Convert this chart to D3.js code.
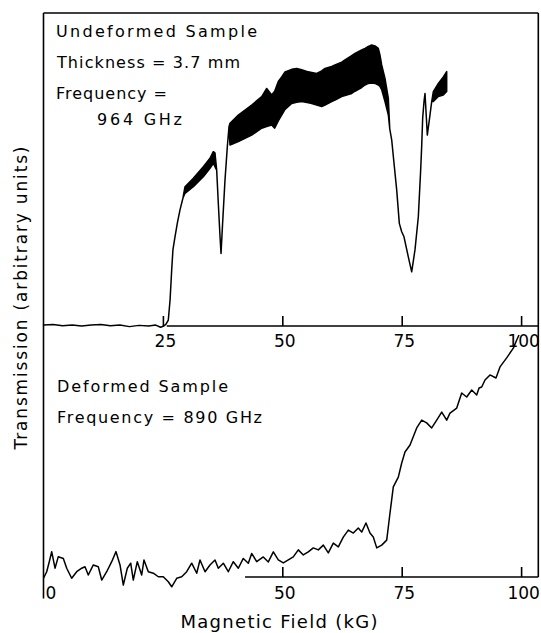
<!DOCTYPE html>
<html><head><meta charset="utf-8">
<script src="https://cdn.jsdelivr.net/npm/d3@7"></script>
<style>
body{margin:0;background:#fff}
svg{display:block}
text{font-family:"DejaVu Sans",sans-serif;fill:#000}
</style>
</head><body>
<svg id="c" width="541" height="633"></svg>
<script>
// ---- data ----
// Undeformed sample, 964 GHz: field (kG), lower / upper envelope of the fringe band (arb. units)
const topField = [0,2,4,6,8,10,12,14,16,18,20,22,23.5,24.5,25.2,25.65,26.13,26.5,26.84,27.1,27.53,28.06,28.58,29.2,
  29.63,31.37,33.46,34.86,35.55,35.9,36.26,36.6,36.96,37.17,37.5,38.0,38.49,38.84,
  39.05,40.79,43.59,45.69,46.73,47.78,48.4,49.16,49.87,50.57,51.97,53.02,54.06,55.44,56.16,57.2,58.25,58.94,60.34,61.03,
  62.44,63.13,64.53,65.22,66.62,67.32,68.01,68.72,69.41,70.1,70.46,70.81,71.5,72.2,
  72.5,72.91,73.39,73.95,74.5,75.0,75.48,76.38,77.09,77.78,78.48,78.97,79.18,79.39,79.67,79.88,80.15,80.36,80.78,81.28,
  81.62,82.67,83.71,84.42];
const topLow = [0.3,0.5,0.1,0.3,0.0,0.3,0.5,0.1,0.3,-0.2,0.2,0.0,0.3,-0.4,0.0,0.6,1.9,8.3,17.9,24.3,28.5,33.2,37.1,40.9,
  42.4,44.5,47.7,50.4,52.0,50.9,49.8,39.2,28.5,23.2,32.8,46.6,57.3,63.7,
  57.8,58.9,61.0,63.2,63.7,64.2,63.2,65.5,67.4,69.2,71.1,71.5,71.7,71.3,71.1,70.6,70.1,70.6,71.7,72.2,
  73.3,73.6,74.3,75.0,76.2,77.0,77.5,77.6,77.5,77.0,76.5,75.5,71.7,67.4,
  63.0,59.4,52.0,43.5,32.8,30.1,28.5,22.1,17.3,24.3,34.9,49.8,57.3,66.4,71.7,74.3,66.9,61.0,65.8,71.7,
  71.7,73.3,73.8,74.9];
const topHigh = [0.3,0.5,0.1,0.3,0.0,0.3,0.5,0.1,0.3,-0.2,0.2,0.0,0.3,-0.4,0.0,0.6,1.9,8.3,17.9,24.3,28.5,33.2,37.1,40.9,
  44.5,47.2,50.9,53.6,55.7,55.3,49.8,39.2,28.5,23.2,32.8,46.6,57.3,63.7,
  64.8,67.4,70.6,73.3,75.9,73.8,75.0,78.1,79.6,81.2,82.0,82.3,81.9,81.2,81.0,80.7,81.5,82.3,82.9,83.4,
  84.3,85.0,86.4,87.1,88.2,88.7,89.3,89.8,89.5,88.7,86.5,83.4,79.1,72.7,
  63.0,59.4,52.0,43.5,32.8,30.1,28.5,22.1,17.3,24.3,34.9,49.8,57.3,66.4,71.7,74.3,66.9,61.0,65.8,71.7,
  74.9,77.5,79.6,81.3];

// Deformed sample, 890 GHz: field (kG), transmission (arb. units)
const botField = [0,0.67,1.21,1.72,2.41,3.1,4.15,4.86,5.9,6.95,8.0,8.69,9.38,10.43,11.47,12.19,13.23,14.28,15.18,16.02,
  16.71,17.55,18.26,18.8,19.64,20.56,21.04,21.94,22.99,24.04,25.08,26.13,26.84,27.89,28.94,29.98,31.03,32.08,32.77,33.82,
  34.86,35.91,36.6,37.65,38.69,39.74,40.79,41.83,42.88,43.59,44.64,46.02,47.07,48.12,49.16,50.21,51.26,52.3,53.35,54.4,
  55.44,56.49,57.54,58.59,59.63,60.68,61.73,62.77,63.82,64.87,65.91,66.62,67.52,68.36,69.05,69.77,70.81,71.86,72.55,73.24,
  74.29,75.0,75.69,76.74,78.14,79.19,80.23,81.28,82.33,83.38,84.42,85.11,86.52,87.56,88.61,89.66,90.7,91.2,91.75,92.44,
  93.49,94.74,95.58,96.98,98.37,99.08,99.56];
const botValue = [-0.5,2.1,6.1,10.1,3.5,8.1,7.4,3.5,-0.5,2.1,3.5,4.1,0.8,4.8,4.1,-1.2,2.1,6.1,10.1,4.8,
  -3.2,3.5,5.5,-1.2,6.1,0.8,6.8,2.1,1.5,0.1,0.1,-1.9,-3.9,-0.5,0.1,2.1,5.5,1.5,6.8,2.1,
  4.8,6.8,3.5,5.5,2.1,6.1,3.5,7.4,5.5,9.4,6.1,8.0,6.0,10.0,6.8,5.6,6.8,8.0,10.8,8.8,
  10.0,11.6,10.8,12.7,9.6,13.5,12.0,15.9,18.7,17.5,19.5,17.9,21.5,17.5,15.9,11.6,12.7,14.7,25.5,35.9,
  39.8,45.4,49.8,52.6,59.4,62.5,61.4,59.4,62.5,65.7,62.5,65.3,67.3,73.3,71.7,74.5,72.5,75.3,75.7,78.5,
  80.5,79.3,83.7,87.3,91.2,94.4,96.4];

const topTicks = [25,50,75,100];
const botTicks = [0,50,75,100];
const topLabels = ["Undeformed Sample","Thickness = 3.7 mm","Frequency =","964 GHz"];
const botLabels = ["Deformed Sample","Frequency = 890 GHz"];
const xTitle = "Magnetic Field (kG)";
const yTitle = "Transmission (arbitrary units)";

// ---- drawing ----
const svg = d3.select("#c");
const x  = d3.scaleLinear().domain([0,103.6]).range([43.5,538.3]);
const yT = d3.scaleLinear().domain([0,100]).range([326,13]);
const yB = d3.scaleLinear().domain([0,100]).range([577,326]);

const frame = svg.append("g").attr("stroke","#000").attr("stroke-width",1.6).attr("fill","none");
frame.append("line").attr("x1",x(0)).attr("x2",x(103.6)).attr("y1",yT(100)).attr("y2",yT(100));
frame.append("line").attr("x1",x(0)).attr("x2",x(0)).attr("y1",yT(100)).attr("y2",yB(-8.6));
frame.append("line").attr("x1",x(103.6)).attr("x2",x(103.6)).attr("y1",yT(100)).attr("y2",yB(0));
frame.append("line").attr("x1",x(25.8)).attr("x2",x(103.6)).attr("y1",yT(0)).attr("y2",yT(0));
frame.append("line").attr("x1",x(42.2)).attr("x2",x(103.6)).attr("y1",yB(0)).attr("y2",yB(0));

function styleAxis(g){
  g.select(".domain").remove();
  g.selectAll(".tick line").attr("stroke","#000").attr("stroke-width",1.6);
  g.selectAll(".tick text").attr("font-size",17).attr("font-family","DejaVu Sans").attr("fill","#000").attr("dx",2);
}
const axT = svg.append("g").attr("transform",`translate(0,${yT(0)})`)
  .call(d3.axisBottom(x).tickValues(topTicks).tickSizeInner(-10).tickSizeOuter(0).tickPadding(9));
styleAxis(axT);
const axB = svg.append("g").attr("transform",`translate(0,${yB(0)})`)
  .call(d3.axisBottom(x).tickValues(botTicks).tickSizeInner(-10).tickSizeOuter(0).tickPadding(10));
styleAxis(axB);
axB.selectAll(".tick").filter(d=>d===0).select("text").attr("text-anchor","start").attr("dx",1.5);
axB.selectAll(".tick").filter(d=>d===0).select("line").remove();

// upper trace: fringe band as an area between envelopes
const topData = topField.map((f,i)=>({f,lo:topLow[i],hi:topHigh[i]}));
svg.append("path").datum(topData)
  .attr("d", d3.area().x(d=>x(d.f)).y0(d=>yT(d.lo)).y1(d=>yT(d.hi)))
  .attr("fill","#000").attr("stroke","#000").attr("stroke-width",1.5).attr("stroke-linejoin","round");

// lower trace
const botData = botField.map((f,i)=>({f,v:botValue[i]}));
svg.append("path").datum(botData)
  .attr("d", d3.line().x(d=>x(d.f)).y(d=>yB(d.v)))
  .attr("fill","none").attr("stroke","#000").attr("stroke-width",1.5).attr("stroke-linejoin","round");

// annotations
const ann = [
  {t:topLabels[0], x:56,  y:36.7, w:201},
  {t:topLabels[1], x:57,  y:68,   w:183},
  {t:topLabels[2], x:56,  y:99,   w:111},
  {t:topLabels[3], x:97,  y:125,  w:85},
  {t:botLabels[0], x:57,  y:391.5,w:171},
  {t:botLabels[1], x:57,  y:423,  w:205}
];
svg.append("g").selectAll("text").data(ann).join("text")
  .attr("x",d=>d.x).attr("y",d=>d.y).attr("font-size",16)
  .attr("textLength",d=>d.w).attr("lengthAdjust","spacing")
  .text(d=>d.t);

svg.append("text").attr("x",279).attr("y",628).attr("text-anchor","middle")
  .attr("font-size",18).attr("textLength",197).attr("lengthAdjust","spacing").text(xTitle);
svg.append("text").attr("transform","translate(27,298) rotate(-90)").attr("text-anchor","middle")
  .attr("font-size",17).attr("textLength",303).attr("lengthAdjust","spacing").text(yTitle);
</script>
</body></html>
